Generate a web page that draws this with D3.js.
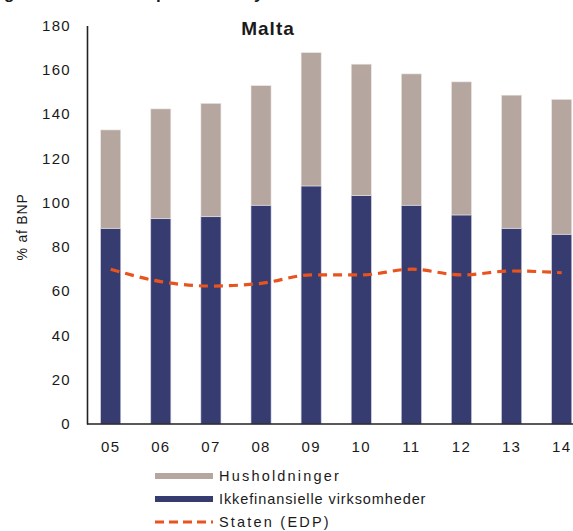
<!DOCTYPE html>
<html>
<head>
<meta charset="utf-8">
<script src="https://cdn.jsdelivr.net/npm/d3@7"></script>
<style>
  html, body { margin: 0; padding: 0; background: #fff; }
  svg { display: block; }
  text { font-family: "Liberation Sans", Arial, sans-serif; fill: #1a1a1a; }
</style>
</head>
<body>
<svg id="chart" width="573" height="531"></svg>
<script>
const years = ["05","06","07","08","09","10","11","12","13","14"];
const nonFinancial = [88.4, 92.7, 93.6, 98.8, 107.5, 103.1, 98.8, 94.4, 88.4, 85.7];
const households   = [44.4, 49.6, 51.2, 54.0, 60.2, 59.4, 59.3, 60.1, 60.1, 60.9];
const government   = [69.9, 64.3, 62.3, 63.5, 67.3, 67.3, 69.9, 67.3, 69.1, 68.3];
const yTicks = [0, 20, 40, 60, 80, 100, 120, 140, 160, 180];
const seriesNames = ["Husholdninger", "Ikkefinansielle virksomheder", "Staten (EDP)"];
const colors = { hh: "#b5a79f", nf: "#363b70", gov: "#e8531e" };

const svg = d3.select("#chart");

// fragment of the heading above the chart (cut off in the picture)
const frag = svg.append("g").attr("font-weight", "bold").attr("font-size", 17);
[["g", 4], ["p", 156], ["y", 254]].forEach(([t, xx]) =>
  frag.append("text").attr("x", xx).attr("y", -1).text(t));

const x = d3.scaleBand().domain(years).range([87, 585.4])
  .paddingInner(0.6).paddingOuter(0.273);
const y = d3.scaleLinear().domain([0, 180]).range([424, 25.4]);

const g = svg.append("g");

// bars
const bars = g.append("g");
years.forEach((yr, i) => {
  const nf = nonFinancial[i], hh = households[i];
  bars.append("rect")
    .attr("x", x(yr)).attr("width", x.bandwidth())
    .attr("y", y(nf)).attr("height", y(0) - y(nf))
    .attr("fill", colors.nf).attr("stroke", "#c9cbe0").attr("stroke-width", 0.6);
  bars.append("rect")
    .attr("x", x(yr)).attr("width", x.bandwidth())
    .attr("y", y(nf + hh)).attr("height", y(nf) - y(nf + hh))
    .attr("fill", colors.hh).attr("stroke", "#ece6e3").attr("stroke-width", 0.6);
});

// government line
const line = d3.line()
  .x((d, i) => x(years[i]) + x.bandwidth() / 2)
  .y(d => y(d))
  .curve(d3.curveMonotoneX);
g.append("path").datum(government)
  .attr("d", line)
  .attr("fill", "none")
  .attr("stroke", colors.gov)
  .attr("stroke-width", 3.2)
  .attr("stroke-dasharray", "9,6");

// axes
const yAxis = d3.axisLeft(y).tickValues(yTicks).tickSize(0).tickPadding(16);
const ya = g.append("g").attr("transform", "translate(87,0)").call(yAxis);
ya.select(".domain").attr("stroke", "#222").attr("stroke-width", 1.6);
ya.selectAll("text").attr("font-size", 15).attr("letter-spacing", 1.3)
  .attr("fill", "#1a1a1a").attr("font-family", "Liberation Sans, Arial, sans-serif");

const xAxis = d3.axisBottom(x).tickSize(0).tickPadding(17);
const xa = g.append("g").attr("transform", "translate(0,424)").call(xAxis);
xa.select(".domain").attr("stroke", "#222").attr("stroke-width", 1.6)
  .attr("d", "M87,0H600");
xa.selectAll("text").attr("font-size", 15).attr("letter-spacing", 1.3)
  .attr("fill", "#1a1a1a").attr("font-family", "Liberation Sans, Arial, sans-serif");

// title
svg.append("text").attr("x", 268).attr("y", 35)
  .attr("text-anchor", "middle").attr("font-weight", "bold").attr("font-size", 19)
  .attr("letter-spacing", 1)
  .text("Malta");

// y label
svg.append("text")
  .attr("transform", "translate(27,227) rotate(-90)")
  .attr("text-anchor", "middle").attr("font-size", 14).attr("letter-spacing", 0.8)
  .text("% af BNP");

// legend
const leg = svg.append("g");
const legItems = [
  { name: seriesNames[0], color: colors.hh, dash: null, w: 6, ls: 2.2 },
  { name: seriesNames[1], color: colors.nf, dash: null, w: 6, ls: 0.9 },
  { name: seriesNames[2], color: colors.gov, dash: "9,5", w: 3, ls: 2.2 }
];
legItems.forEach((d, i) => {
  const yy = 476 + i * 23;
  leg.append("line").attr("x1", 155).attr("x2", 213).attr("y1", yy).attr("y2", yy)
    .attr("stroke", d.color).attr("stroke-width", d.w)
    .attr("stroke-dasharray", d.dash);
  leg.append("text").attr("x", 219).attr("y", yy + 5)
    .attr("font-size", 14.5).attr("letter-spacing", d.ls).text(d.name);
});
</script>
</body>
</html>
